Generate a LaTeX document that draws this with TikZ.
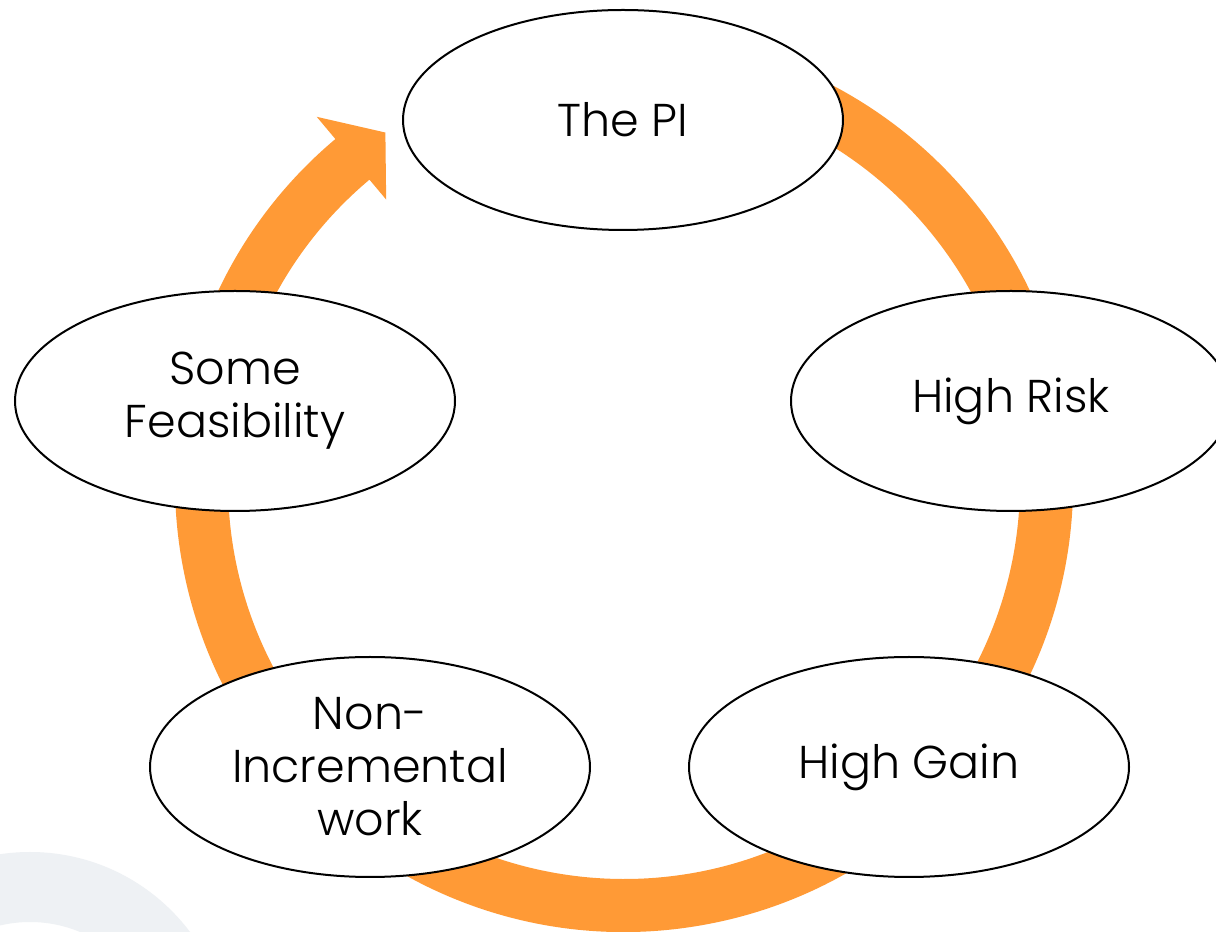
\documentclass[tikz,border=0pt]{standalone}
\usepackage{fontspec}
\setmainfont{Poppins Light}
\usetikzlibrary{shapes.geometric}
\definecolor{ringorange}{RGB}{255,154,54}
\definecolor{bggray}{RGB}{238,241,244}
\tikzset{
  stage/.style={ellipse, draw=black, line width=2pt, fill=white,
    minimum width=440pt, minimum height=220pt, inner sep=0pt,
    align=center, font=\fontsize{46}{53}\selectfont},
}
\begin{document}
\begin{tikzpicture}[x=1pt,y=1pt]
\clip (0,0) rectangle (1216,932);
\fill[white] (0,0) rectangle (1216,932);
% faint background ring
\fill[bggray, even odd rule] (30,-120) circle[radius=200] (30,-120) circle[radius=130];
% circular arrow
\begin{scope}[shift={(624,449)}]
\fill[ringorange] (100:449) arc[start angle=100, end angle=-230, radius=449]
  -- (-230:478) -- (-235.75:424) -- (-230:370) -- (-230:396)
  arc[start angle=-230, end angle=100, radius=396] -- cycle;
\end{scope}
\node[stage] (pi) at (623,812) {The PI};
\node[stage] (risk) at (1011,531) {High Risk};
\node[stage] (gain) at (909,165) {High Gain};
\node[stage] (nonin) at (370,165) {Non-\\Incremental\\work};
\node[stage] (feas) at (235,531) {Some\\Feasibility};
\end{tikzpicture}
\end{document}
